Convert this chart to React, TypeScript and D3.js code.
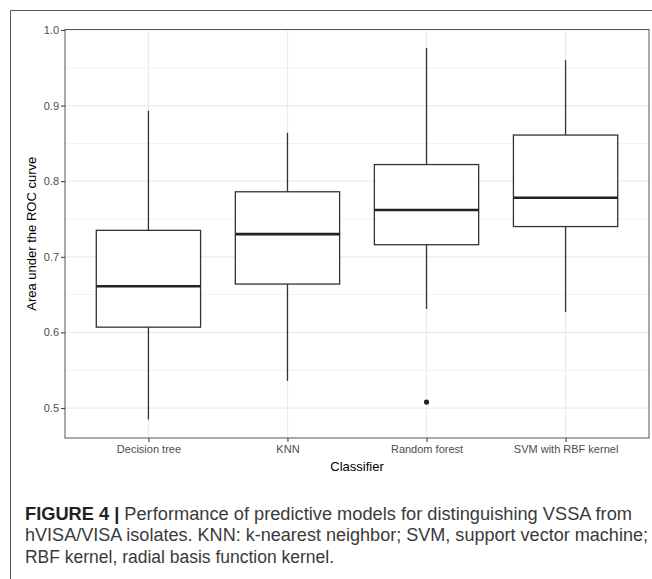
import React, { useRef, useEffect } from 'react';
import * as d3 from 'd3';

const W = 652;
const H = 579;

// box statistics
const classifiers = ['Decision tree', 'KNN', 'Random forest', 'SVM with RBF kernel'];
const whiskerLow = [0.485, 0.536, 0.631, 0.627];
const q1 = [0.607, 0.664, 0.716, 0.740];
const median = [0.661, 0.730, 0.762, 0.778];
const q3 = [0.735, 0.786, 0.822, 0.861];
const whiskerHigh = [0.893, 0.864, 0.976, 0.960];
const outliers = [{ cls: 'Random forest', value: 0.508 }];

const yTicks = [0.5, 0.6, 0.7, 0.8, 0.9, 1.0];
const yMinor = [0.55, 0.65, 0.75, 0.85, 0.95];

const captionLines = [
  { bold: 'FIGURE 4 | ', text: 'Performance of predictive models for distinguishing VSSA from', len: 607 },
  { bold: '', text: 'hVISA/VISA isolates. KNN: k-nearest neighbor; SVM, support vector machine;', len: 623 },
  { bold: '', text: 'RBF kernel, radial basis function kernel.', len: 309 },
];

export default function App() {
  const svgRef = useRef<SVGSVGElement>(null);

  useEffect(() => {
    const svg = d3.select(svgRef.current);
    svg.selectAll('*').remove();

    const left = 65, right = 649, top = 29.5, bottom = 438;

    // ggplot style 5% expansion of the data range
    const all = [...whiskerLow, ...whiskerHigh, ...outliers.map(o => o.value)];
    const [lo, hi] = d3.extent(all) as [number, number];
    const pad = (hi - lo) * 0.05;

    const x = d3.scalePoint<string>().domain(classifiers).range([left, right]).padding(0.6);
    const y = d3.scaleLinear().domain([lo - pad, hi + pad]).range([bottom, top]);
    const boxW = x.step() * 0.75;

    svg.append('rect').attr('width', W).attr('height', H).attr('fill', '#fff');

    // outer figure frame (top + left)
    svg.append('path')
      .attr('d', `M10.5,${H} V10.5 H${W}`)
      .attr('fill', 'none').attr('stroke', '#555').attr('stroke-width', 1);

    // grid
    const g = svg.append('g');
    g.selectAll('.minor').data(yMinor).join('line')
      .attr('x1', left).attr('x2', right)
      .attr('y1', d => y(d)).attr('y2', d => y(d))
      .attr('stroke', '#f2f2f2').attr('stroke-width', 1);
    g.selectAll('.major').data(yTicks).join('line')
      .attr('x1', left).attr('x2', right)
      .attr('y1', d => y(d)).attr('y2', d => y(d))
      .attr('stroke', '#ebebeb').attr('stroke-width', 1.3);
    g.selectAll('.vmajor').data(classifiers).join('line')
      .attr('x1', d => x(d)!).attr('x2', d => x(d)!)
      .attr('y1', top).attr('y2', bottom)
      .attr('stroke', '#ebebeb').attr('stroke-width', 1.3);

    // boxes
    const boxes = svg.append('g');
    classifiers.forEach((c, i) => {
      const cx = x(c)!;
      boxes.append('line')
        .attr('x1', cx).attr('x2', cx)
        .attr('y1', y(whiskerHigh[i])).attr('y2', y(q3[i]))
        .attr('stroke', '#333').attr('stroke-width', 1.3);
      boxes.append('line')
        .attr('x1', cx).attr('x2', cx)
        .attr('y1', y(q1[i])).attr('y2', y(whiskerLow[i]))
        .attr('stroke', '#333').attr('stroke-width', 1.3);
      boxes.append('rect')
        .attr('x', cx - boxW / 2).attr('width', boxW)
        .attr('y', y(q3[i])).attr('height', y(q1[i]) - y(q3[i]))
        .attr('fill', '#fff').attr('stroke', '#333').attr('stroke-width', 1.3);
      boxes.append('line')
        .attr('x1', cx - boxW / 2).attr('x2', cx + boxW / 2)
        .attr('y1', y(median[i])).attr('y2', y(median[i]))
        .attr('stroke', '#222').attr('stroke-width', 2.6);
    });

    boxes.selectAll('circle').data(outliers).join('circle')
      .attr('cx', d => x(d.cls)!).attr('cy', d => y(d.value))
      .attr('r', 2.6).attr('fill', '#222');

    // panel border
    svg.append('rect')
      .attr('x', left).attr('y', top)
      .attr('width', right - left).attr('height', bottom - top)
      .attr('fill', 'none').attr('stroke', '#555').attr('stroke-width', 1);

    // axes
    const yAxis = svg.append('g')
      .attr('transform', `translate(${left},0)`)
      .call(d3.axisLeft(y).tickValues(yTicks).tickFormat(d3.format('.1f')).tickSize(4).tickPadding(2));
    const xAxis = svg.append('g')
      .attr('transform', `translate(0,${bottom})`)
      .call(d3.axisBottom(x).tickSize(4).tickPadding(3));
    [yAxis, xAxis].forEach(a => {
      a.select('.domain').remove();
      a.selectAll('.tick line').attr('stroke', '#333').attr('stroke-width', 1);
      a.selectAll('.tick text')
        .attr('fill', '#4d4d4d')
        .style('font-family', '"Liberation Sans", Arial, sans-serif')
        .style('font-size', '11px');
    });

    svg.append('text')
      .attr('x', (left + right) / 2).attr('y', 470.5)
      .attr('text-anchor', 'middle')
      .style('font-family', '"Liberation Sans", Arial, sans-serif')
      .style('font-size', '13px').attr('fill', '#000')
      .text('Classifier');

    svg.append('text')
      .attr('transform', `translate(36,${(top + bottom) / 2}) rotate(-90)`)
      .attr('text-anchor', 'middle')
      .style('font-family', '"Liberation Sans", Arial, sans-serif')
      .style('font-size', '13px').attr('fill', '#000')
      .text('Area under the ROC curve');

    // caption
    captionLines.forEach((l, i) => {
      const t = svg.append('text')
        .attr('x', 25).attr('y', 519.5 + i * 21.5)
        .attr('textLength', l.len).attr('lengthAdjust', 'spacingAndGlyphs')
        .style('font-family', '"Liberation Sans", Arial, sans-serif')
        .style('font-size', '18px').attr('fill', '#3a3a3a');
      if (l.bold) t.append('tspan').attr('font-weight', 'bold').attr('fill', '#222').text(l.bold);
      t.append('tspan').text(l.text);
    });
  }, []);

  return (
    <svg ref={svgRef} width={W} height={H}
      style={{ position: 'absolute', left: 0, top: 0, display: 'block' }} />
  );
}
